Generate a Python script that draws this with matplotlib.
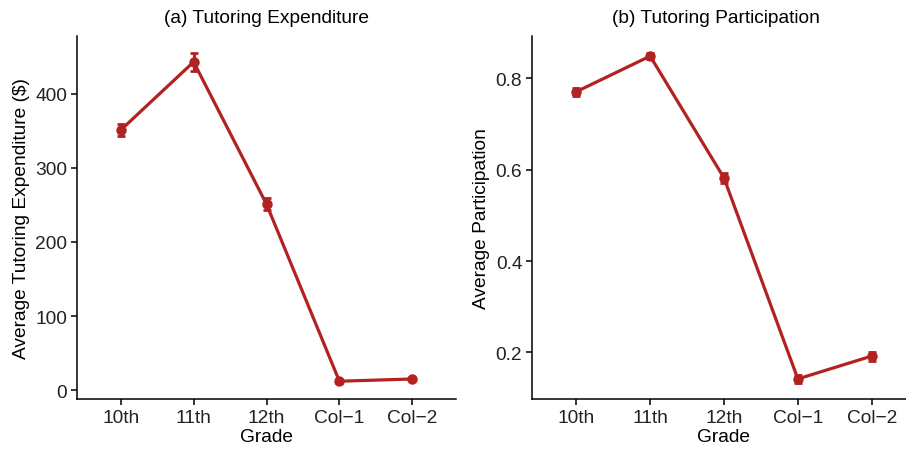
import matplotlib
matplotlib.use("Agg")
import matplotlib.pyplot as plt

grades = ["10th", "11th", "12th", "Col\u22121", "Col\u22122"]
expenditure = [351, 443, 251, 12, 15]
expenditure_se = [8, 12, 8, 2, 2]
participation = [0.771, 0.849, 0.582, 0.142, 0.192]
participation_se = [0.009, 0.007, 0.010, 0.009, 0.010]

exp_ticks = [0, 100, 200, 300, 400]
part_ticks = [0.2, 0.4, 0.6, 0.8]

plt.rcParams['font.family'] = ['Liberation Sans', 'DejaVu Sans']
color = '#B22222'
W, H = 906, 452
fig = plt.figure(figsize=(W / 100, H / 100), dpi=100)

def frac(x0, y0, x1, y1):
    return [x0 / W, 1 - y1 / H, (x1 - x0) / W, (y1 - y0) / H]

ax1 = fig.add_axes(frac(77, 37, 456, 400))
ax2 = fig.add_axes(frac(532, 37, 916, 400))

panels = [
    (ax1, expenditure, expenditure_se, exp_ticks, (-12, 478),
     "Average Tutoring Expenditure ($)", "(a) Tutoring Expenditure", [str(t) for t in exp_ticks], 0.5),
    (ax2, participation, participation_se, part_ticks, (0.098, 0.893),
     "Average Participation", "(b) Tutoring Participation", [f"{t:.1f}" for t in part_ticks],
     (716 - 532) / (916 - 532)),
]

for ax, vals, se, ticks, ylim, ylab, title, tlabels, tx in panels:
    x = list(range(len(grades)))
    ax.plot(x, vals, color=color, lw=2.3, solid_capstyle='butt', zorder=2)
    ax.errorbar(x, vals, yerr=se, fmt='o', color=color, ms=6.5, elinewidth=2.3,
                capsize=3, capthick=2.0, zorder=3)
    ax.set_xlim(-0.6, len(grades) - 0.4)
    ax.set_ylim(*ylim)
    ax.set_xticks(x)
    ax.set_xticklabels(grades)
    ax.set_yticks(ticks)
    ax.set_yticklabels(tlabels)
    for s in ['top', 'right']:
        ax.spines[s].set_visible(False)
    for s in ['left', 'bottom']:
        ax.spines[s].set_linewidth(1.1)
        ax.spines[s].set_color('black')
    ax.tick_params(axis='both', labelsize=13.8, colors='black', labelcolor='#222222',
                   width=1.1, length=4, pad=3)
    ax.set_xlabel("Grade", fontsize=13.8, labelpad=2)
    ax.set_ylabel(ylab, fontsize=13.8, labelpad=4)
    ax.set_title(title, fontsize=13.8, pad=10, x=tx)

fig.savefig("out.png", dpi=100)
